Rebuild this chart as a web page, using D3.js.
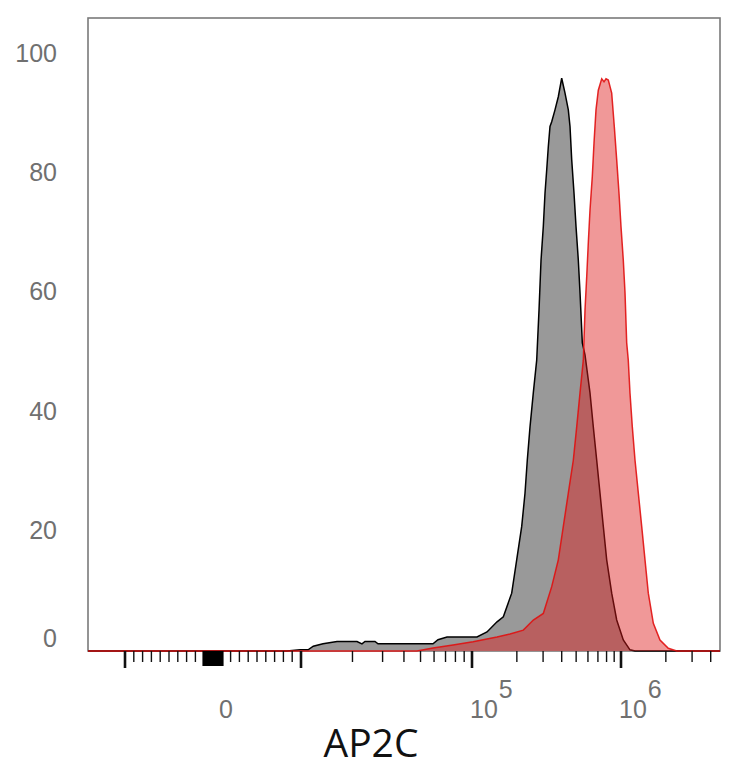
<!DOCTYPE html>
<html lang="en">
<head>
    <meta charset="UTF-8">
    <title>AP2C histogram</title>
    <script src="https://cdnjs.cloudflare.com/ajax/libs/d3/7.8.5/d3.min.js"></script>
    <style>
        body { margin: 0; background: #fff; }
    </style>
</head>
<body>
    <script>
        // Control (gray) histogram: fluorescence intensity and % of max
        var controlX = [8400, 9900, 11000, 11800, 13450, 16240, 21260, 22730, 23670, 27080, 28200,
            59140, 63260, 71420, 108000, 126100, 147200, 162300, 184700, 199500, 215600, 226900,
            235000, 245100, 257900, 271800, 281700, 290600, 301000, 309000, 317200, 325200,
            333800, 342700, 360600, 379500, 399900, 421000, 443000, 454800, 466900, 483800,
            499000, 517000, 530800, 550000, 573400, 619400, 651800, 687000, 722800, 760700,
            801700, 866100, 935700, 1036000, 1149000, 1242000];
        var controlY = [0, 0.2, 0.2, 0.8, 1.2, 1.6, 1.6, 1.2, 1.6, 1.6, 1.2,
            1.2, 1.9, 2.35, 2.35, 3.2, 4.9, 5.75, 9.7, 15.3, 20.9, 26.5,
            32.0, 37.6, 43.3, 48.8, 57.2, 65.6, 71.2, 76.8, 80.7, 84.6,
            88.0, 88.8, 90.8, 93.0, 96.1, 93.6, 90.8, 88.0, 82.4, 76.8,
            71.2, 65.6, 60.1, 51.7, 49.7, 43.3, 37.6, 32.0, 26.5, 20.9,
            15.3, 9.7, 5.2, 1.85, 0.2, 0];

        // AP2C stained (red) histogram
        var stainedX = [47690, 59140, 77420, 101600, 147200, 179900, 221000, 257900, 301000,
            342700, 379500, 410100, 443000, 478600, 504400, 530800, 558500, 573400, 588700,
            603400, 619400, 641700, 658800, 679500, 704200, 742200, 769000, 793200, 821900,
            866100, 901600, 935700, 969600, 1000000, 1036000, 1064000, 1092000, 1119000,
            1149000, 1191000, 1242000, 1307000, 1377000, 1449000, 1525000, 1648000, 1827000,
            2077000, 2365000];
        var stainedY = [0, 0.5, 1.0, 1.56, 2.35, 2.85, 3.5, 5.2, 6.3,
            10.8, 15.3, 20.9, 26.5, 32.0, 37.6, 43.3, 48.8, 57.2, 62.8,
            68.5, 74.0, 79.6, 85.2, 90.8, 94.1, 96.0, 95.5, 96.0, 95.8,
            93.6, 88.0, 82.4, 76.8, 71.2, 65.6, 60.1, 51.7, 48.8,
            43.3, 37.6, 32.0, 26.5, 20.9, 15.3, 9.7, 4.65, 1.85,
            0.45, 0];

        var yTicks = [0, 20, 40, 60, 80, 100];
        var xMajorTicks = [-10000, 10000, 100000, 1000000];
        var xTickLabels = [
            {value: 0, base: "0", sup: ""},
            {value: 100000, base: "10", sup: "5"},
            {value: 1000000, base: "10", sup: "6"}
        ];
        var xTitle = "AP2C";

        var W = 734, H = 768;
        var plot = {left: 88, right: 720, top: 18, bottom: 651};

        var svg = d3.select("body")
            .append("svg")
            .attr("width", W)
            .attr("height", H);

        // biexponential-like axis: linear around zero, log above 10^4
        function tr(v) {
            return v <= 1e4 ? v / 1e4 : 1 + Math.log10(v / 1e4);
        }
        var xLin = d3.scaleLinear().domain([-1, 0, 1, 2, 3]).range([125, 213, 301, 472, 621]);
        var x = function(v) { return xLin(tr(v)); };
        var xMin = -1e4 * (1 + (125 - plot.left) / 88);
        var xMax = Math.pow(10, 4 + xLin.invert(plot.right) - 1);

        var y = d3.scaleLinear().domain([0, 100]).range([plot.bottom, 55]);

        function series(xs, ys) {
            var pts = xs.map(function(v, i) { return [v, ys[i]]; });
            return [[xMin, 0]].concat(pts, [[xMax, 0]]);
        }
        var control = series(controlX, controlY);
        var stained = series(stainedX, stainedY);

        var area = d3.area()
            .x(function(d) { return x(d[0]); })
            .y0(y(0))
            .y1(function(d) { return y(d[1]); });
        var line = d3.line()
            .x(function(d) { return x(d[0]); })
            .y(function(d) { return y(d[1]); });

        // frame
        svg.append("rect")
            .attr("x", plot.left)
            .attr("y", plot.top)
            .attr("width", plot.right - plot.left)
            .attr("height", plot.bottom - plot.top)
            .attr("fill", "none")
            .attr("stroke", "#7a7a7a")
            .attr("stroke-width", 1.6);

        // control histogram
        svg.append("path").datum(control)
            .attr("d", area)
            .attr("fill", "#999999");
        svg.append("path").datum(control)
            .attr("d", line)
            .attr("fill", "none")
            .attr("stroke", "#000")
            .attr("stroke-width", 1.5);

        // stained histogram, translucent on top
        svg.append("path").datum(stained)
            .attr("d", area)
            .attr("fill", "rgb(222,27,27)")
            .attr("fill-opacity", 0.45);
        svg.append("path").datum(stained)
            .attr("d", line)
            .attr("fill", "none")
            .attr("stroke", "#e01010")
            .attr("stroke-opacity", 0.9)
            .attr("stroke-width", 1.5);

        // y labels (no tick marks)
        svg.selectAll(".ylab")
            .data(yTicks)
            .enter()
            .append("text")
            .attr("class", "ylab")
            .attr("x", 57)
            .attr("y", function(d) { return Math.min(y(d), plot.bottom - 11); })
            .attr("dy", "0.28em")
            .attr("text-anchor", "end")
            .attr("font-family", "Liberation Sans, Arial, sans-serif")
            .attr("font-size", 25)
            .attr("fill", "#707070")
            .text(function(d) { return d; });

        // x ticks
        var minor = [];
        for (var k = 1; k <= 9; k++) { minor.push(-k * 1000); minor.push(k * 1000); }
        for (var m = 2; m <= 9; m++) { minor.push(m * 1e4); minor.push(m * 1e5); }
        minor.push(2e6, 3e6, 4e6);
        var nearZero = d3.range(-1100, 1101, 100);

        var tickG = svg.append("g").attr("stroke", "#111");
        tickG.selectAll(".minor").data(minor).enter().append("line")
            .attr("x1", x).attr("x2", x)
            .attr("y1", plot.bottom).attr("y2", plot.bottom + 11)
            .attr("stroke-width", 1.4);
        tickG.selectAll(".zero").data(nearZero).enter().append("line")
            .attr("x1", x).attr("x2", x)
            .attr("y1", plot.bottom).attr("y2", plot.bottom + 15)
            .attr("stroke", "#000")
            .attr("stroke-width", 1.8);
        tickG.selectAll(".major").data(xMajorTicks).enter().append("line")
            .attr("x1", x).attr("x2", x)
            .attr("y1", plot.bottom).attr("y2", plot.bottom + 17)
            .attr("stroke-width", 2.6);

        // x labels
        var xl = svg.selectAll(".xlab")
            .data(xTickLabels)
            .enter()
            .append("text")
            .attr("class", "xlab")
            .attr("x", function(d) { return d.value === 0 ? x(d.value) + 6 : x(d.value) - 2; })
            .attr("y", 718)
            .attr("font-family", "Liberation Sans, Arial, sans-serif")
            .attr("font-size", 25)
            .attr("fill", "#707070");
        xl.append("tspan").text(function(d) { return d.base; });
        xl.append("tspan")
            .attr("dy", -20)
            .attr("dx", 1)
            .text(function(d) { return d.sup; });

        // axis title
        svg.append("text")
            .attr("x", 371)
            .attr("y", 757)
            .attr("text-anchor", "middle")
            .attr("font-family", "Open Sans, Noto Sans, sans-serif")
            .attr("font-size", 39)
            .attr("fill", "#111")
            .text(xTitle);
    </script>
</body>
</html>
